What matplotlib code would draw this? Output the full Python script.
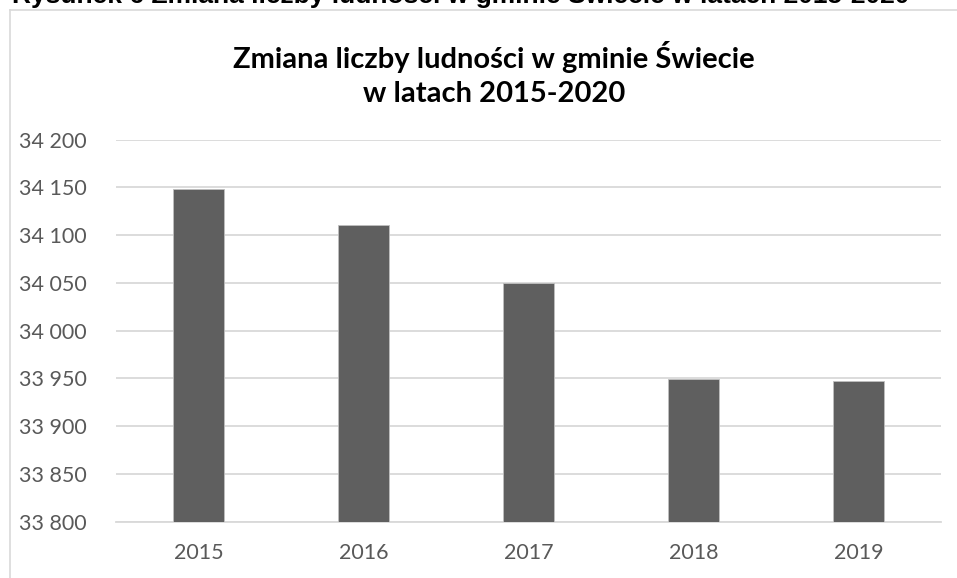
import matplotlib
matplotlib.use('Agg')
import matplotlib.pyplot as plt
from matplotlib.ticker import FuncFormatter, MultipleLocator

# population of gmina Świecie
years = ['2015', '2016', '2017', '2018', '2019']
population = [34148, 34111, 34050, 33949, 33947]
y_min, y_max, y_step = 33800, 34200, 50

plt.rcParams['font.family'] = ['Lato', 'DejaVu Sans']

fig = plt.figure(figsize=(9.57, 5.78), dpi=100)

# chart box border (left and top visible)
fig.add_artist(plt.Line2D([10 / 957, 10 / 957], [0.0, 1 - 9.5 / 578], color='#d9d9d9', linewidth=1.2))
fig.add_artist(plt.Line2D([10 / 957, 1.0], [1 - 9.5 / 578, 1 - 9.5 / 578], color='#d9d9d9', linewidth=1.2))

# caption above the chart, clipped by the figure edge (as in the source)
fig.text(12 / 957, 1.0 - 3 / 578, 'Rysunek 6 Zmiana liczby ludności w gminie Świecie w latach 2015-2020',
         family='Liberation Sans', fontweight='bold', fontsize=19, color='black',
         ha='left', va='baseline')

ax = fig.add_axes([116 / 957, 1 - 521.7 / 578, 825 / 957, (521.7 - 139.7) / 578])
x = range(len(years))
ax.bar(x, population, width=0.315, color='#5f5f5f', edgecolor='#bfbfbf', linewidth=0.6, zorder=3)

ax.set_xlim(-0.5, len(years) - 0.5)
ax.set_ylim(y_min, y_max)
ax.yaxis.set_major_locator(MultipleLocator(y_step))
ax.yaxis.set_major_formatter(FuncFormatter(lambda v, p: f'{int(v):,}'.replace(',', ' ')))
ax.set_xticks(list(x))
ax.set_xticklabels(years)

ax.grid(axis='y', color='#d9d9d9', linewidth=1.3, zorder=0)
for s in ['top', 'right', 'left']:
    ax.spines[s].set_visible(False)
ax.spines['bottom'].set_color('#d9d9d9')
ax.spines['bottom'].set_linewidth(1.3)
ax.tick_params(axis='both', length=0, labelsize=15.5, labelcolor='#595959')
ax.tick_params(axis='y', pad=21)
ax.tick_params(axis='x', pad=15)

fig.text(494 / 957, 1 - 74 / 578, 'Zmiana liczby ludności w gminie Świecie\nw latach 2015-2020',
         ha='center', va='center', fontsize=21, fontweight='bold', color='black', linespacing=1.4)

fig.savefig('out.png', dpi=100)
